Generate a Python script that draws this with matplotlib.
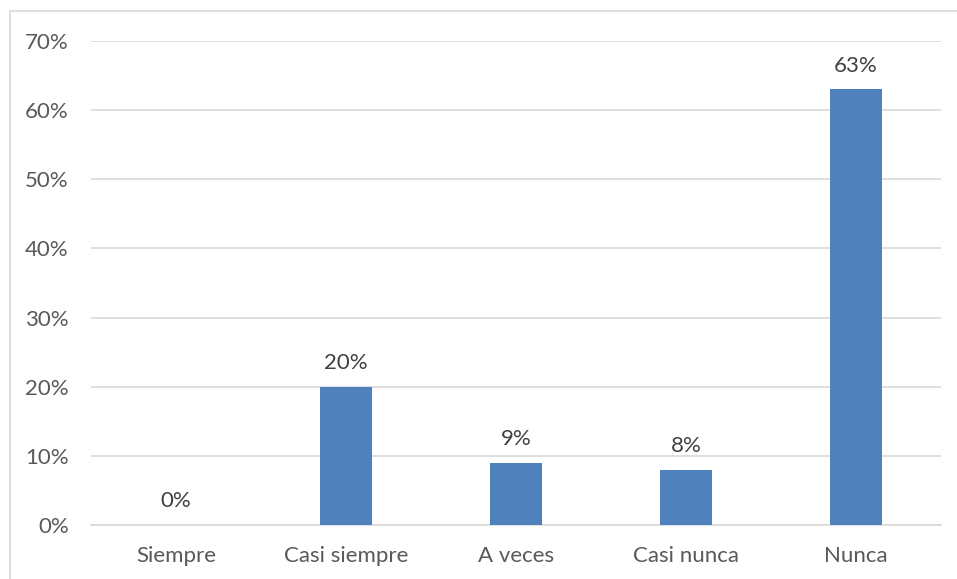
import matplotlib.pyplot as plt
from matplotlib.patches import Rectangle
from matplotlib.ticker import FuncFormatter

categories = ["Siempre", "Casi siempre", "A veces", "Casi nunca", "Nunca"]
values = [0, 20, 9, 8, 63]
yticks = [0, 10, 20, 30, 40, 50, 60, 70]

plt.rcParams["font.family"] = ["Lato", "DejaVu Sans"]
text_color = "#595959"

fig = plt.figure(figsize=(9.57, 5.79), dpi=100)
ax = fig.add_axes([91 / 957, 1 - 525 / 579, 850 / 957, 484 / 579])

# Outer chart border
fig.patches.append(Rectangle((10 / 957, -0.05), 1.1, 1 - 11 / 579 + 0.05,
                             transform=fig.transFigure, fill=False,
                             edgecolor="#d9d9d9", linewidth=1.2))

x = range(len(categories))
bars = ax.bar(x, values, width=0.31, color="#4f81bd", zorder=3)

for xi, v in zip(x, values):
    ax.text(xi, v + 2.0, f"{v}%", ha="center", va="bottom",
            fontsize=16, color="#404040")

ax.set_xlim(-0.5, len(categories) - 0.5)
ax.set_ylim(0, 70)
ax.set_yticks(yticks)
ax.yaxis.set_major_formatter(FuncFormatter(lambda v, p: f"{v:.0f}%"))
ax.set_xticks(list(x))
ax.set_xticklabels(categories)

ax.grid(axis="y", color="#d9d9d9", linewidth=1.2, zorder=0)
for side in ["top", "right", "left"]:
    ax.spines[side].set_visible(False)
ax.spines["bottom"].set_color("#d9d9d9")
ax.spines["bottom"].set_linewidth(1.2)
ax.tick_params(axis="both", length=0, labelsize=16, labelcolor=text_color)
ax.tick_params(axis="y", pad=16)
ax.tick_params(axis="x", pad=15)

fig.savefig("out.png", dpi=100)
